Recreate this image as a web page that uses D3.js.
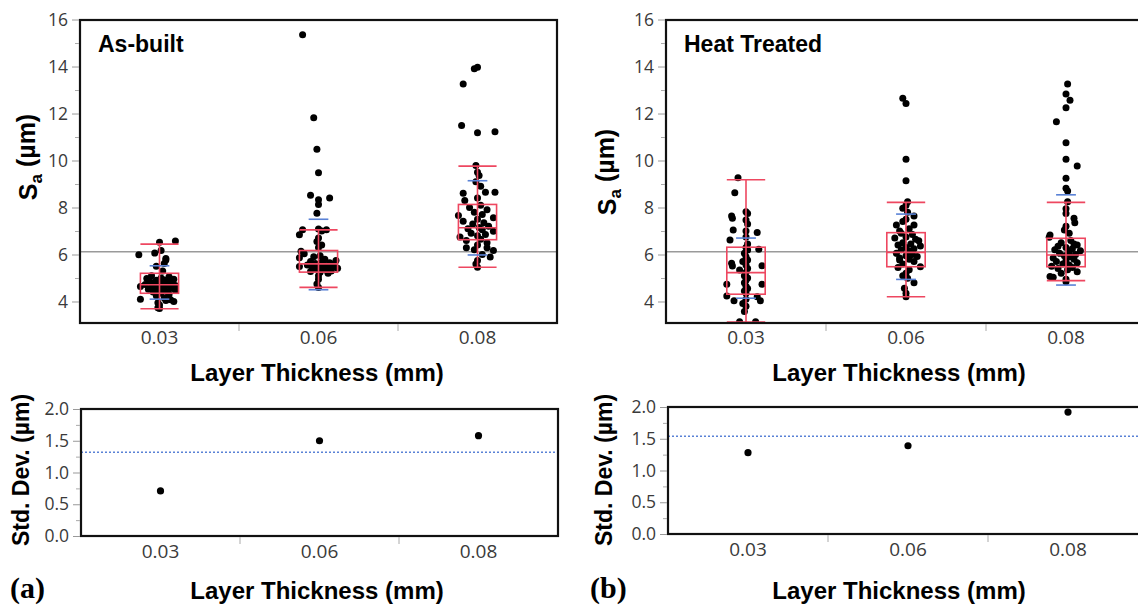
<!DOCTYPE html>
<html>
<head>
<meta charset="utf-8">
<script src="https://cdn.jsdelivr.net/npm/d3@7"></script>
<style>
  body { margin: 0; background: #fff; }
  svg { display: block; }
  .tick text { font-family: "Open Sans", "Noto Sans", sans-serif; fill: #3a3a3a; }
  .title { font-family: "Liberation Sans", Arial, sans-serif; font-weight: bold; fill: #000; }
</style>
</head>
<body>
<div id="chart"></div>
<script>
// layer thickness groups
const categories = ["0.03", "0.06", "0.08"];

// Sa points: [value, jitter as fraction of group width]
const builtPoints = [
  [[6.57,0.10],[6.52,0],[5.99,-0.13],[6.06,-0.03],[6.17,0.01],[5.77,0.04],[5.83,0.04],[5.62,0.03],[5.5,-0.02],[5.3,0.02],
   [5.1,-0.05],[5.05,0.06],[5.0,0.01],[4.98,-0.08],[4.95,0.09],[4.92,0.03],[4.9,-0.02],[4.88,0.05],[4.85,-0.06],[4.82,0],
   [4.8,0.08],[4.78,-0.03],[4.75,0.02],[4.72,-0.09],[4.7,0.06],[4.68,0.10],[4.65,-0.05],[4.64,-0.12],[4.62,0.03],[4.6,0],
   [4.58,-0.03],[4.55,0.07],[4.52,-0.07],[4.5,0.02],[4.47,0.10],[4.45,-0.01],[4.42,0.05],[4.4,-0.04],[4.35,0.01],[4.3,0.06],
   [4.25,-0.02],[4.15,0.03],[4.1,-0.12],[4.07,0.07],[4.04,0.04],[4.0,0.09],[3.95,-0.01],[3.85,0],[3.73,-0.01],[3.7,0]],
  [[15.35,-0.10],[11.82,-0.03],[10.48,-0.01],[9.48,0],[8.52,-0.05],[8.41,0.07],[8.33,0],[8.13,0],[7.76,-0.01],[7.09,0],
   [7.05,-0.10],[7.05,0.05],[7.0,0.02],[6.84,-0.12],[6.7,0],[6.55,-0.01],[6.4,0.02],[6.3,0],[6.14,-0.11],[6.03,-0.09],
   [5.95,0.01],[5.9,-0.03],[5.86,-0.12],[5.8,0.04],[5.74,0.11],[5.7,-0.05],[5.68,0.02],[5.65,0.07],[5.62,-0.02],[5.6,0.03],
   [5.58,0.09],[5.55,-0.07],[5.52,0],[5.5,0.05],[5.49,-0.12],[5.47,0.10],[5.45,-0.04],[5.43,0.02],[5.42,0.12],[5.4,0.07],
   [5.38,-0.02],[5.35,0.04],[5.3,0.08],[5.28,-0.05],[5.25,0.01],[5.2,0.06],[5.1,0],[4.95,0],[4.75,-0.01],[4.6,0]],
  [[13.97,0],[13.9,-0.02],[13.26,-0.09],[11.49,-0.10],[11.18,0],[11.22,0.11],[9.79,-0.01],[9.5,0],[9.36,0.01],[9.1,-0.01],
   [8.9,0.02],[8.65,0.05],[8.65,0.11],[8.61,-0.09],[8.4,0],[8.3,-0.08],[8.1,0.02],[8.0,-0.05],[7.9,0.06],[7.8,-0.02],
   [7.7,0.03],[7.66,-0.12],[7.56,0.10],[7.5,0],[7.42,-0.09],[7.35,0.04],[7.3,-0.03],[7.2,0.07],[7.15,0.01],[7.1,-0.06],
   [7.05,0.03],[6.99,0.10],[6.9,-0.04],[6.85,0.05],[6.8,0],[6.74,-0.11],[6.65,0.02],[6.6,-0.07],[6.5,0.06],[6.4,0],
   [6.29,-0.07],[6.29,0.06],[6.2,-0.02],[6.17,0.10],[6.0,0.03],[5.89,0.08],[5.74,0],[5.6,-0.01],[5.46,0]]
];
const heatPoints = [
  [[9.27,-0.05],[8.63,-0.07],[7.82,0],[7.75,0.01],[7.64,-0.09],[7.54,-0.085],[7.47,0],[7.3,0.01],[7.04,-0.08],[7.0,0],
   [6.94,0.07],[6.75,0],[6.62,-0.10],[6.45,0.01],[6.3,0],[6.22,0.08],[6.19,0.01],[6.05,-0.01],[5.9,0],[5.77,0.01],
   [5.7,-0.02],[5.63,-0.09],[5.55,0],[5.52,0.10],[5.51,-0.085],[5.4,0.01],[5.34,-0.04],[5.25,0],[5.1,-0.01],[5.0,0.01],
   [4.9,0],[4.8,-0.01],[4.73,-0.12],[4.73,0.10],[4.65,0],[4.55,0.01],[4.45,-0.01],[4.35,0],[4.23,-0.12],[4.2,0.07],
   [4.1,0],[4.03,-0.075],[4.03,0.09],[3.92,-0.02],[3.8,0],[3.57,-0.01],[3.14,-0.04],[3.14,0.06]],
  [[12.65,-0.02],[12.43,0],[10.05,0],[9.14,0],[8.25,0.01],[8.1,0],[7.97,-0.02],[7.8,0.01],[7.64,0.05],[7.5,0],
   [7.4,-0.02],[7.26,-0.06],[7.26,0.05],[7.1,0.02],[7.0,-0.04],[6.9,-0.03],[6.85,0.04],[6.75,0],[6.7,-0.07],[6.65,0.06],
   [6.59,0.08],[6.5,-0.02],[6.45,0.03],[6.4,-0.05],[6.36,0.09],[6.3,0],[6.25,0.05],[6.2,-0.03],[6.15,0.02],[6.05,-0.06],
   [6.0,0.04],[5.95,0],[5.91,0.07],[5.85,-0.04],[5.8,0.02],[5.77,-0.04],[5.7,0.05],[5.6,-0.02],[5.48,0.09],[5.45,-0.05],
   [5.35,0.02],[5.2,0],[5.1,-0.02],[4.99,0.01],[4.8,0.05],[4.56,-0.01],[4.35,0],[4.2,0]],
  [[13.26,0.01],[12.83,0],[12.57,0.025],[12.25,0],[11.65,-0.06],[10.76,0],[10.05,0],[9.77,0.07],[9.24,0],[8.82,0],
   [8.7,0.01],[8.25,0.01],[7.95,0],[7.75,0],[7.54,0.05],[7.35,0.055],[7.2,0],[7.04,-0.01],[6.9,0.02],[6.83,-0.10],
   [6.73,-0.105],[6.6,0.03],[6.5,-0.03],[6.45,0.05],[6.4,0.07],[6.35,-0.05],[6.3,0],[6.25,0.04],[6.2,-0.07],[6.16,0.09],
   [6.1,0.02],[6.05,-0.04],[6.0,0.06],[5.95,-0.01],[5.9,0.03],[5.85,-0.08],[5.8,0.05],[5.75,0],[5.7,-0.06],[5.65,0.07],
   [5.6,-0.02],[5.55,0.02],[5.5,-0.09],[5.45,0.04],[5.4,-0.05],[5.35,0.01],[5.27,0.07],[5.2,-0.03],[5.06,-0.10],[5.03,-0.08],
   [4.95,0],[4.84,0]]
];

// box plots: [lower whisker, q1, median, q3, upper whisker]
const builtBoxes = [[3.69,4.35,4.71,5.2,6.44],[4.6,5.25,5.6,6.17,7.05],[5.46,6.63,7.14,8.13,9.76]];
const heatBoxes  = [[3.13,4.31,5.23,6.31,9.18],[4.2,5.48,6.09,6.93,8.22],[4.89,5.48,5.98,6.69,8.22]];

// group means and standard deviations
const builtMeans = [4.81, 6.0, 7.56];
const heatMeans  = [5.42, 6.33, 6.62];
const builtSd = [0.71, 1.50, 1.58];
const heatSd  = [1.28, 1.39, 1.92];

const builtGrandMean = 6.12, heatGrandMean = 6.12;
const builtPooledSd = 1.32, heatPooledSd = 1.54;

const saTicks = [4, 6, 8, 10, 12, 14, 16];
const saMinor = [5, 7, 9, 11, 13, 15];
const sdTicks = [0, 0.5, 1.0, 1.5, 2.0];
const sdMinor = [0.25, 0.75, 1.25, 1.75];

const red = "#ee4760", blue = "#5a82d6";

const svg = d3.select("#chart").append("svg").attr("width", 1138).attr("height", 605);

let clipN = 0;
function frame(g, x0, x1, y0, y1) {
  g.append("rect").attr("x", x0).attr("y", y0).attr("width", x1 - x0).attr("height", y1 - y0)
    .attr("fill", "none").attr("stroke", "#111").attr("stroke-width", 2.2);
}
function yAxes(g, y, x0, major, minor, fmt) {
  g.append("g").attr("transform", `translate(${x0},0)`)
    .call(d3.axisLeft(y).tickValues(major).tickSize(7).tickPadding(4).tickFormat(fmt))
    .call(a => a.select(".domain").remove())
    .call(a => a.selectAll("line").attr("stroke", "#999"))
    .call(a => a.selectAll("text").style("font-size", "17.5px"));
  g.append("g").attr("transform", `translate(${x0},0)`)
    .call(d3.axisLeft(y).tickValues(minor).tickSize(4).tickFormat(""))
    .call(a => a.select(".domain").remove())
    .call(a => a.selectAll("line").attr("stroke", "#aaa"));
}
function xAxes(g, x, yb, pad) {
  g.append("g").attr("transform", `translate(0,${yb})`)
    .call(d3.axisBottom(x).tickSize(0).tickPadding(pad))
    .call(a => a.select(".domain").remove())
    .call(a => a.selectAll("text").style("font-size", "19px"));
  g.selectAll(".sep").data(categories.slice(1)).join("line")
    .attr("x1", d => x(d)).attr("x2", d => x(d))
    .attr("y1", yb + 1).attr("y2", yb + 8).attr("stroke", "#aaa");
}

function topPanel(o) {
  const g = svg.append("g");
  const x = d3.scaleBand().domain(categories).range([o.x0, o.x1]);
  const y = d3.scaleLinear().domain([3.085, 15.98]).range([323, 20]);
  const bw = x.bandwidth();
  const cx = (i) => x(categories[i]) + bw / 2;
  const id = "clip" + (clipN++);
  g.append("clipPath").attr("id", id).append("rect")
    .attr("x", o.x0).attr("y", 20).attr("width", o.x1 - o.x0).attr("height", 303);
  const p = g.append("g").attr("clip-path", `url(#${id})`);

  p.append("line").attr("x1", o.x0).attr("x2", o.x1)
    .attr("y1", y(o.grand)).attr("y2", y(o.grand)).attr("stroke", "#9a9a9a").attr("stroke-width", 1.6);

  o.points.forEach((pts, i) => {
    p.append("g").selectAll("circle").data(pts).join("circle")
      .attr("cx", d => cx(i) + d[1] * bw).attr("cy", d => y(d[0])).attr("r", 3.5).attr("fill", "#000");
  });

  const half = bw * 0.12, bhalf = bw * 0.062;
  o.boxes.forEach((b, i) => {
    const c = cx(i);
    const bx = p.append("g").attr("stroke", red).attr("stroke-width", 1.6).attr("fill", "none");
    bx.append("line").attr("x1", c).attr("x2", c).attr("y1", y(b[0])).attr("y2", y(b[4]));
    bx.append("rect").attr("x", c - half).attr("width", 2 * half)
      .attr("y", y(b[3])).attr("height", y(b[1]) - y(b[3]));
    [b[0], b[2], b[4]].forEach(v => bx.append("line")
      .attr("x1", c - half).attr("x2", c + half).attr("y1", y(v)).attr("y2", y(v)));
    [o.means[i] - o.sd[i], o.means[i] + o.sd[i]].forEach(v => p.append("line")
      .attr("x1", c - bhalf).attr("x2", c + bhalf).attr("y1", y(v)).attr("y2", y(v))
      .attr("stroke", blue).attr("stroke-width", 1.6));
  });

  frame(g, o.x0, o.x1, 20, 323);
  yAxes(g, y, o.x0 - 1, saTicks, saMinor, d3.format("d"));
  xAxes(g, x, 323, 8);

  g.append("text").attr("class", "title").attr("x", o.x0 + 18).attr("y", 52)
    .style("font-size", "23px").text(o.label);
  g.append("text").attr("class", "title").attr("x", o.tx).attr("y", 381)
    .attr("text-anchor", "middle").style("font-size", "24px").text("Layer Thickness (mm)");
  const t = g.append("text").attr("class", "title").attr("text-anchor", "middle")
    .attr("transform", `translate(${o.ytx},${o.yty}) rotate(-90)`).style("font-size", "25px");
  t.append("tspan").text("S");
  t.append("tspan").attr("dy", "0.3em").style("font-size", "17px").text("a");
  t.append("tspan").attr("dy", "-0.3em").text(" (µm)");
}

function bottomPanel(o) {
  const g = svg.append("g");
  const x = d3.scaleBand().domain(categories).range([o.x0, o.x1]);
  const y = d3.scaleLinear().domain([0, 2]).range([o.yb, o.yt]);
  const bw = x.bandwidth();

  g.append("line").attr("x1", o.x0).attr("x2", Math.min(o.x1, 1138))
    .attr("y1", y(o.pooled)).attr("y2", y(o.pooled))
    .attr("stroke", blue).attr("stroke-width", 1.6).attr("stroke-dasharray", "2,2");
  g.selectAll("circle").data(o.sd).join("circle")
    .attr("cx", (d, i) => x(categories[i]) + bw / 2).attr("cy", d => y(d)).attr("r", 3.6).attr("fill", "#000");

  frame(g, o.x0, o.x1, o.yt, o.yb);
  yAxes(g, y, o.x0 - 1, sdTicks, sdMinor, d3.format(".1f"));
  xAxes(g, x, o.yb, 9);

  g.append("text").attr("class", "title").attr("x", o.tx).attr("y", 599)
    .attr("text-anchor", "middle").style("font-size", "24px").text("Layer Thickness (mm)");
  g.append("text").attr("class", "title").attr("text-anchor", "middle")
    .attr("transform", `translate(${o.ytx},${o.yty}) rotate(-90)`).style("font-size", "23px")
    .text("Std. Dev. (µm)");
  g.append("text").attr("x", o.letterX).attr("y", 598)
    .style("font-family", "'Liberation Serif', 'Times New Roman', serif").style("font-weight", "bold")
    .style("font-size", "30px").text(o.letter);
}

topPanel({ x0: 80, x1: 557, points: builtPoints, boxes: builtBoxes, means: builtMeans, sd: builtSd,
  grand: builtGrandMean, label: "As-built", ytx: 37, yty: 157, tx: 317 });
topPanel({ x0: 666, x1: 1146, points: heatPoints, boxes: heatBoxes, means: heatMeans, sd: heatSd,
  grand: heatGrandMean, label: "Heat Treated", ytx: 616, yty: 172, tx: 899 });
bottomPanel({ x0: 81, x1: 558, yt: 409, yb: 536, sd: builtSd, pooled: builtPooledSd,
  ytx: 29, yty: 470, tx: 317, letter: "(a)", letterX: 10 });
bottomPanel({ x0: 668, x1: 1148, yt: 407, yb: 534, sd: heatSd, pooled: heatPooledSd,
  ytx: 612, yty: 470, tx: 899, letter: "(b)", letterX: 590 });
</script>
</body>
</html>
